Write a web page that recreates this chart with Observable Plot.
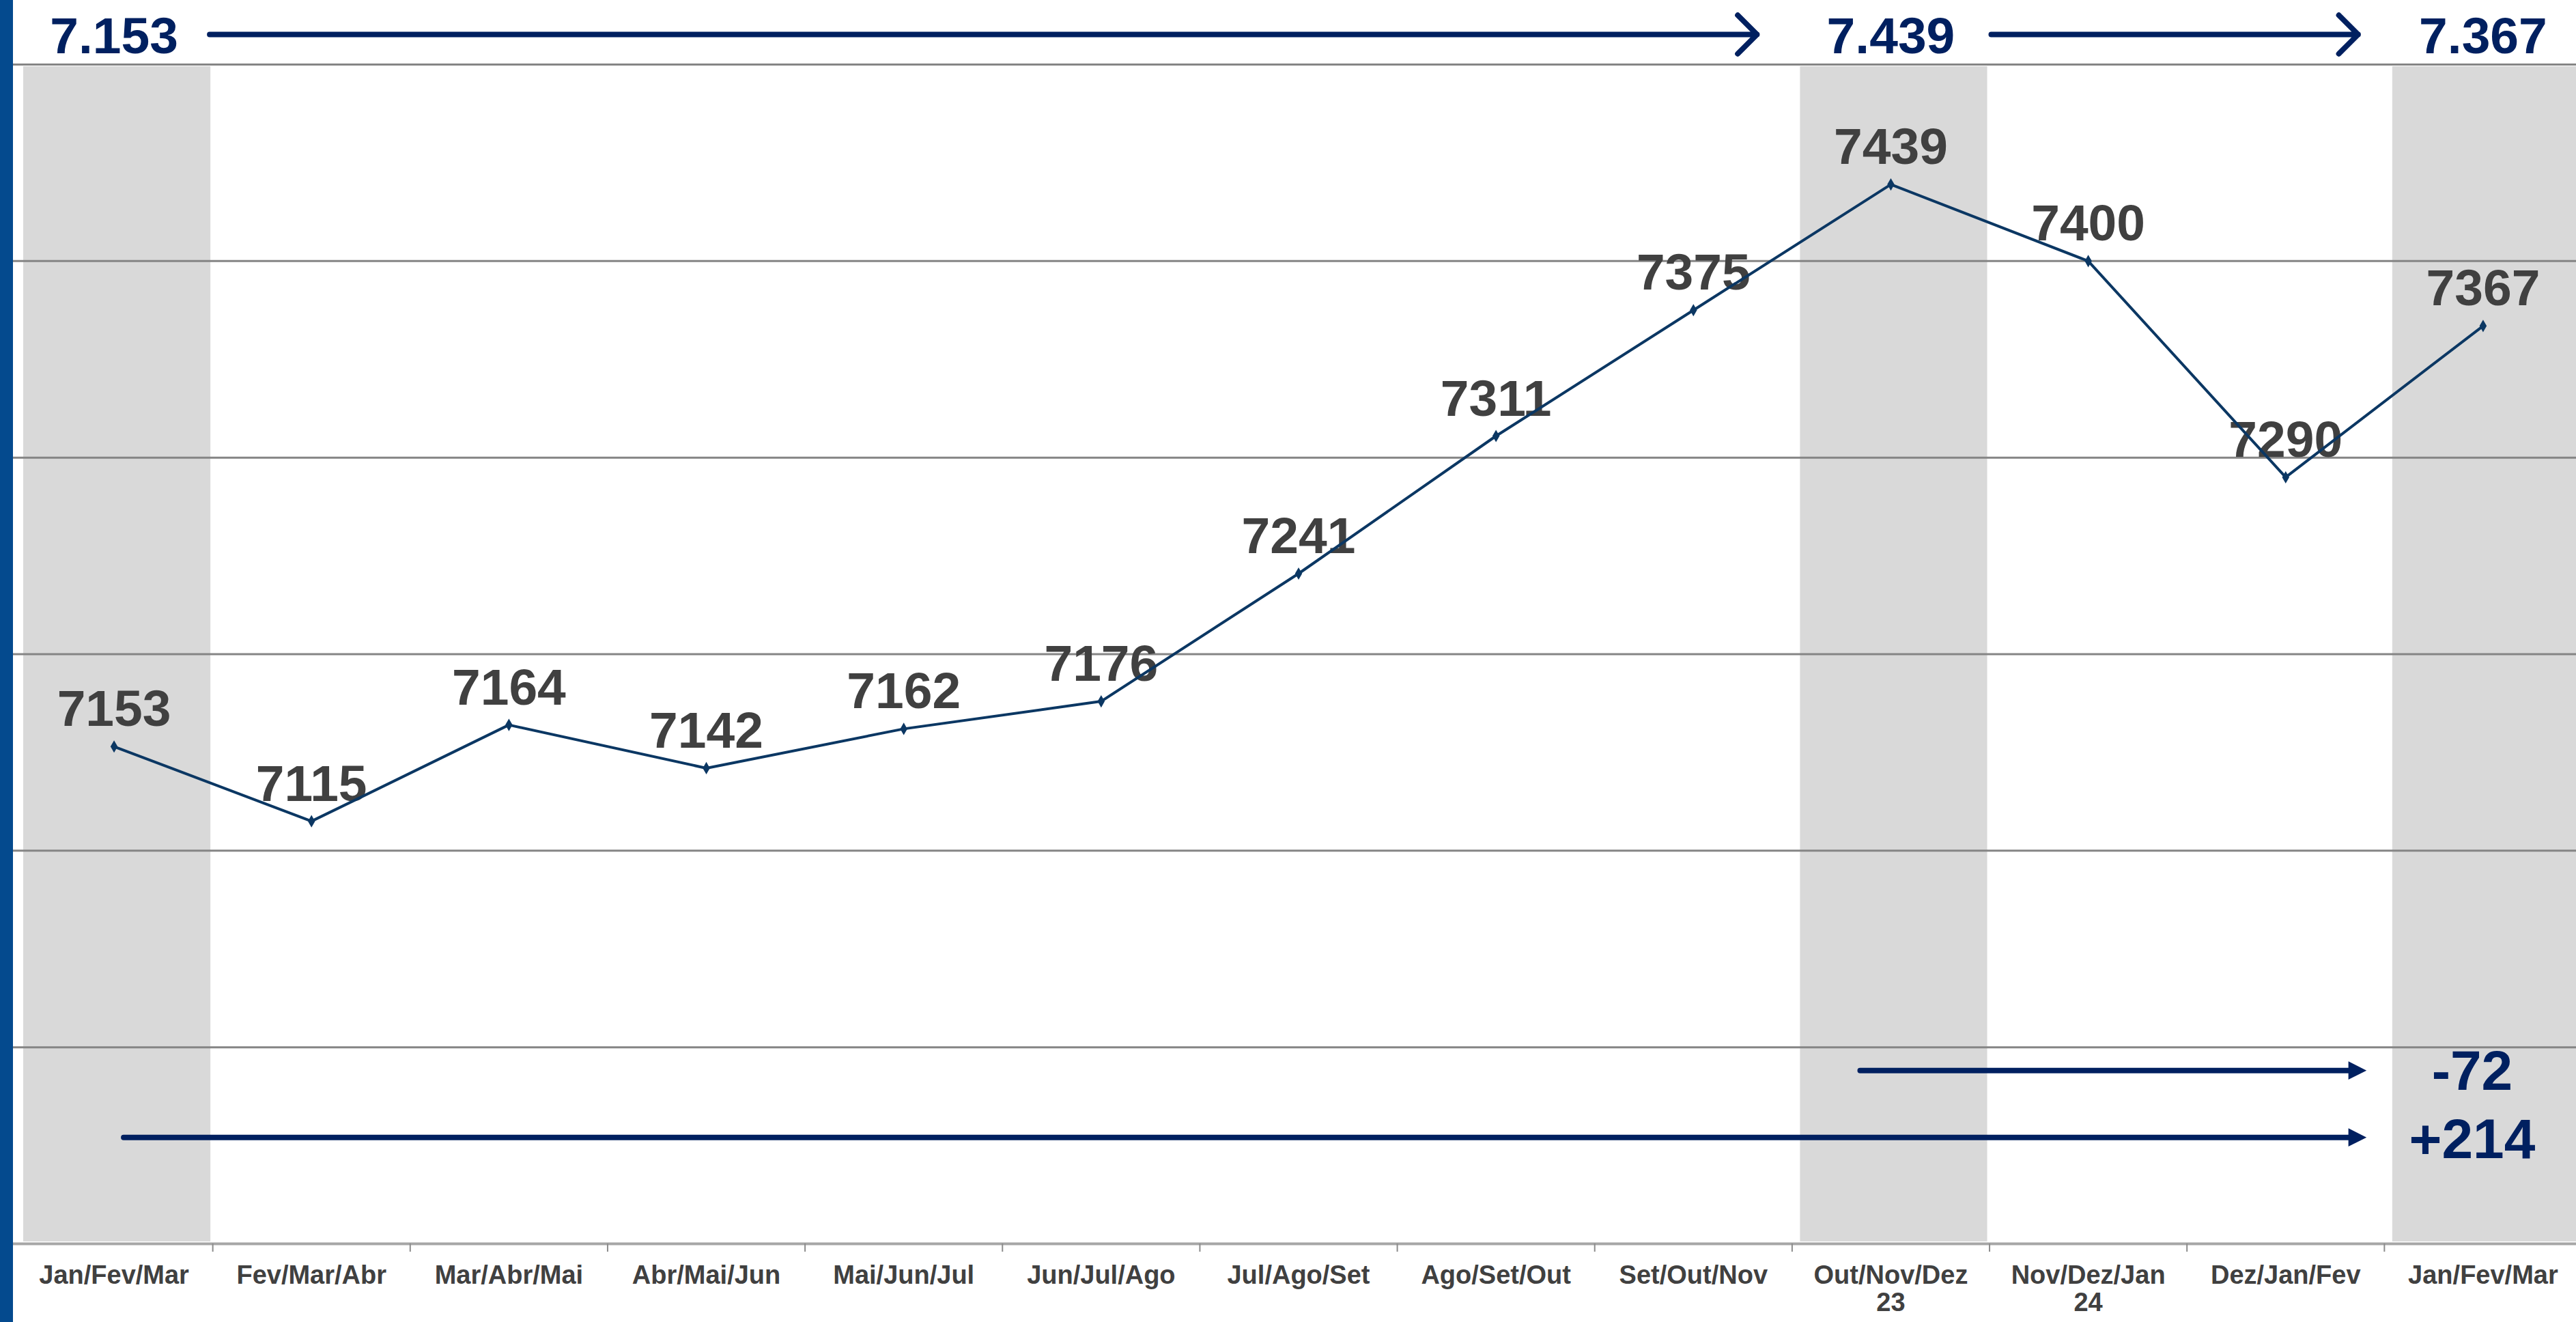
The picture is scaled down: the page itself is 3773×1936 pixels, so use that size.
<!DOCTYPE html>
<html><head><meta charset="utf-8">
<script src="https://cdn.jsdelivr.net/npm/d3@7"></script>
<script src="https://cdn.jsdelivr.net/npm/@observablehq/plot@0.6"></script>
<style>
html,body{margin:0;padding:0;background:#fff;}
#wrap{position:relative;width:3773px;height:1936px;overflow:hidden;}
#bar{position:absolute;left:0;top:0;width:19px;height:1936px;background:#044A8E;}
#wrap svg{display:block;}
</style></head><body>
<div id="wrap"><div id="bar"></div></div>
<script>
// ---- data ----
const categories = ["Jan/Fev/Mar","Fev/Mar/Abr","Mar/Abr/Mai","Abr/Mai/Jun","Mai/Jun/Jul","Jun/Jul/Ago","Jul/Ago/Set","Ago/Set/Out","Set/Out/Nov","Out/Nov/Dez\n23","Nov/Dez/Jan\n24","Dez/Jan/Fev","Jan/Fev/Mar"];
const values = [7153,7115,7164,7142,7162,7176,7241,7311,7375,7439,7400,7290,7367];
const highlighted = [0, 9, 12];
const yTicks = [7000, 7100, 7200, 7300, 7400, 7500];
const yDomain = [6900, 7500];
// top comparison arrows (category index from -> to)
const topArrowFrom = [0, 9];
const topArrowTo = [9, 12];
// bottom variation arrows
const deltaFrom = [9, 0];
const deltaTo = [12, 12];

// ---- styles ----
const NAVY = "#002060";
const LINE = "#0B3763";
const GREY_TXT = "#404040";
const FONT = "'Liberation Sans', Arial, sans-serif";

const fmtPt = d3.formatLocale({decimal: ",", thousands: ".", grouping: [3], currency: ["", ""]}).format(",");
const boundaries = values.slice(0, -1).map((_, i) => i + 0.5);

const topArrowStyle = [
  {insetStart: 140, insetEnd: 196},
  {insetStart: 147, insetEnd: 183}
];
const deltaStyle = [
  {insetStart: -45, insetEnd: 197, dy: 34, labelDy: 62},
  {insetStart: 14, insetEnd: 197, dy: 132, labelDy: 162}
];

const rightTriangle = {
  draw(ctx, size) {
    const s = Math.sqrt(size);
    ctx.moveTo(s * 0.5, 0);
    ctx.lineTo(-s * 0.5, -s * 0.5);
    ctx.lineTo(-s * 0.5, s * 0.5);
    ctx.closePath();
  }
};

const marks = [
  // highlighted gray bands
  Plot.rectY(highlighted, {
    x1: i => i - 0.5, x2: i => i + 0.5, y1: yDomain[0], y2: yDomain[1],
    fill: "#D9D9D9", insetLeft: 12, insetRight: 3, insetTop: 3, insetBottom: 3
  }),
  // gridlines
  Plot.ruleY(yTicks, {stroke: "#858585", strokeWidth: 3}),
  // bottom axis line
  Plot.ruleY([yDomain[0]], {stroke: "#A6A6A6", strokeWidth: 4}),
  Plot.axisX(boundaries, {tickSize: 12, tickFormat: () => "", stroke: "#8C8C8C", strokeWidth: 2}),
  // category labels
  Plot.text(categories, {
    x: (d, i) => i, frameAnchor: "bottom", text: d => d, dy: 30, lineAnchor: "top",
    lineHeight: 1.05, fontSize: 38, fontWeight: "bold", fill: GREY_TXT, fontFamily: FONT
  }),
  // value labels
  Plot.text(values, {
    x: (d, i) => i, y: d => d, text: d => String(d), dy: -30, lineAnchor: "bottom",
    fontSize: 75, fontWeight: "bold", fill: GREY_TXT, fontFamily: FONT
  }),
  // line and markers
  Plot.line(values, {x: (d, i) => i, y: d => d, stroke: LINE, strokeWidth: 4}),
  Plot.dot(values, {x: (d, i) => i, y: d => d, symbol: "diamond", r: 5.5, fill: LINE, stroke: "none"}),
  // top labels
  Plot.text(highlighted, {
    x: i => i, frameAnchor: "top", text: i => fmtPt(values[i]), dy: -17, lineAnchor: "bottom",
    fontSize: 75, fontWeight: "bold", fill: NAVY, fontFamily: FONT
  }),
  // top arrows
  ...topArrowFrom.map((f, k) => Plot.arrow([k], {
    x1: () => f, x2: () => topArrowTo[k], y1: () => yDomain[1], y2: () => yDomain[1], dy: -44,
    stroke: NAVY, strokeWidth: 8, headLength: 7.5, headAngle: 90,
    insetStart: topArrowStyle[k].insetStart, insetEnd: topArrowStyle[k].insetEnd
  })),
  // bottom delta arrows: shafts
  ...deltaFrom.map((f, k) => Plot.arrow([k], {
    x1: () => f, x2: () => deltaTo[k], y1: () => yTicks[0], y2: () => yTicks[0], dy: deltaStyle[k].dy,
    stroke: NAVY, strokeWidth: 8, headLength: 0,
    insetStart: deltaStyle[k].insetStart, insetEnd: deltaStyle[k].insetEnd
  })),
  // bottom delta arrows: heads
  ...deltaFrom.map((f, k) => Plot.dot([k], {
    x: () => deltaTo[k], y: () => yTicks[0], dy: deltaStyle[k].dy, dx: -deltaStyle[k].insetEnd + 13,
    symbol: rightTriangle, r: 15, fill: NAVY, stroke: "none"
  })),
  // delta labels
  ...deltaFrom.map((f, k) => Plot.text([k], {
    x: () => deltaTo[k], y: () => yTicks[0], dy: deltaStyle[k].labelDy, dx: -16,
    text: () => { const d = values[deltaTo[k]] - values[f]; return d > 0 ? "+" + d : String(d); },
    lineAnchor: "bottom", fontSize: 82, fontWeight: "bold", fill: NAVY, fontFamily: FONT
  }))
];

const chart = Plot.plot({
  width: 3773,
  height: 1936,
  marginTop: 94,
  marginBottom: 115,
  marginLeft: 19,
  marginRight: 0,
  style: {background: "#fff", fontFamily: FONT, overflow: "hidden"},
  x: {type: "linear", domain: [-0.5, 12.5], range: [22, 3781], axis: null},
  y: {domain: yDomain, axis: null},
  marks
});
document.getElementById("wrap").insertBefore(chart, document.getElementById("bar"));
</script>
</body></html>
